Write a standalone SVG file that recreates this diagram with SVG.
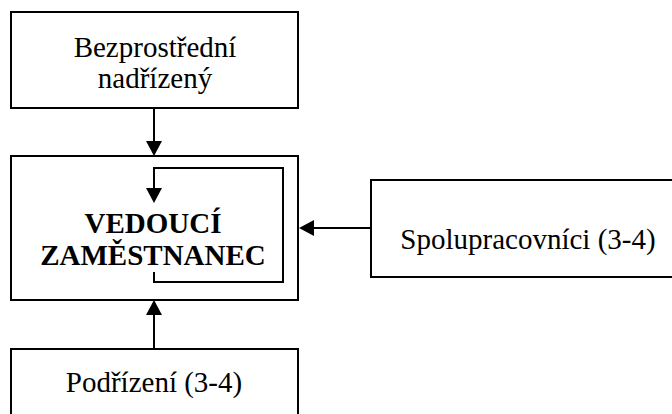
<svg xmlns="http://www.w3.org/2000/svg" width="672" height="414" viewBox="0 0 672 414">
  <style>
    .box { fill: #ffffff; stroke: #000000; stroke-width: 2; }
    text { font-family: 'Liberation Serif', 'Times New Roman', Times, serif; font-size: 29px; fill: #000000; text-anchor: middle; }
    .bold { font-weight: bold; }
    .link { fill: none; stroke: #000000; stroke-width: 2; marker-end: url(#head); }
  </style>
  <defs>
    <marker id="head" viewBox="0 0 15 16" markerWidth="15" markerHeight="16" refX="13" refY="8" orient="auto" markerUnits="userSpaceOnUse">
      <path d="M0,0 L15,8 L0,16 z" fill="#000000"/>
    </marker>
  </defs>

  <g id="superior">
    <rect class="box" x="11" y="12" width="287" height="96"/>
    <text x="155" y="57" font-family="Liberation Serif, serif">Bezprostřední</text>
    <text x="155" y="88" font-family="Liberation Serif, serif">nadřízený</text>
  </g>

  <g id="manager">
    <rect class="box" x="11" y="156" width="287" height="144"/>
    <text class="bold" x="153" y="233" font-family="Liberation Serif, serif">VEDOUCÍ</text>
    <text class="bold" x="153" y="265" font-family="Liberation Serif, serif">ZAMĚSTNANEC</text>
  </g>

  <g id="colleagues">
    <rect class="box" x="371" y="180" width="320" height="97"/>
    <text x="528" y="249" font-family="Liberation Serif, serif">Spolupracovníci (3-4)</text>
  </g>

  <g id="subordinates">
    <rect class="box" x="11" y="349" width="287" height="80"/>
    <text x="154" y="392" font-family="Liberation Serif, serif">Podřízení (3-4)</text>
  </g>

  <g id="connectors">
    <path class="link" d="M154,108 V154"/>
    <path class="link" d="M154,272 V282 H283 V168 H154 V201"/>
    <path class="link" d="M371,228 H301"/>
    <path class="link" d="M154,349 V302"/>
  </g>
</svg>
